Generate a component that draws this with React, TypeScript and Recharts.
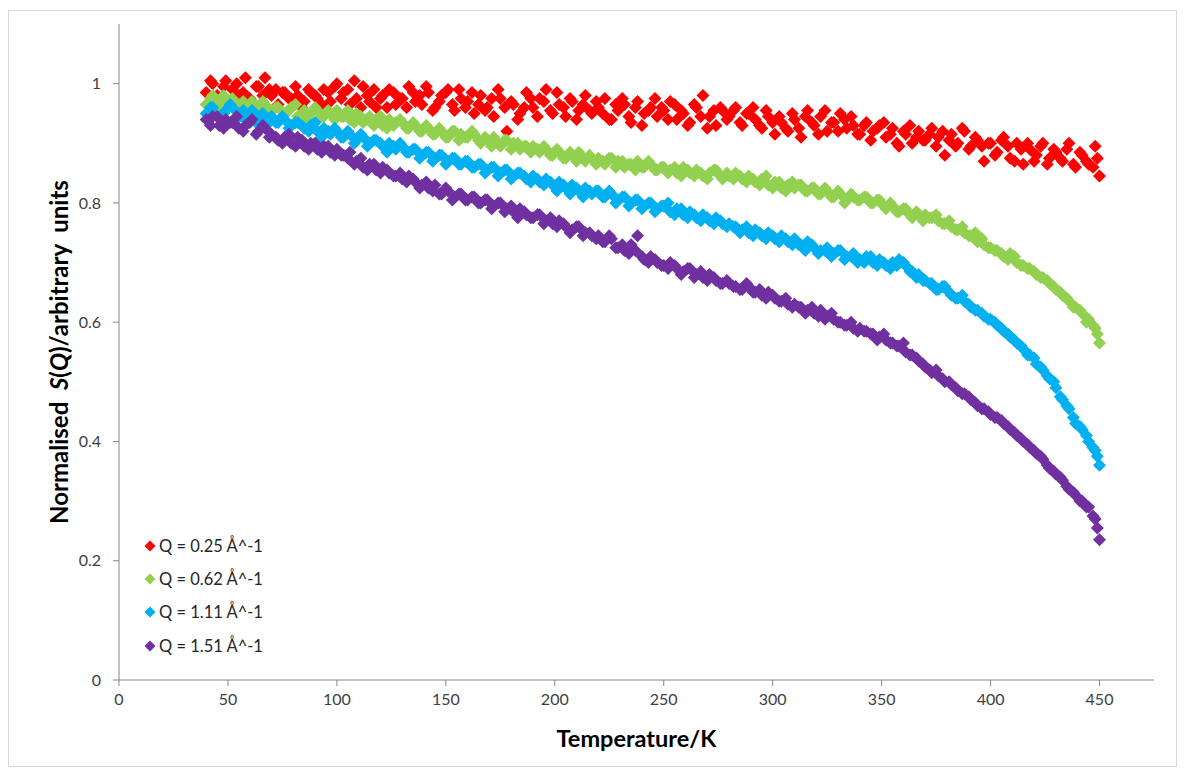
import { ScatterChart, Scatter, XAxis, YAxis, Legend } from 'recharts';

// first pass of temperature points (K)
const temperatures = [
  40, 43, 46, 49, 52, 55, 58, 61, 64, 67,
  70, 73, 76, 79, 82, 85, 88, 91, 94, 97,
  100, 103, 106, 109, 112, 115, 118, 121, 124, 127,
  130, 133, 136, 139, 142, 145, 148, 151, 154, 157,
  160, 163, 166, 169, 172, 175, 178, 181, 184, 187,
  190, 193, 196, 199, 202, 205, 208, 211, 214, 217,
  220, 223, 226, 229, 232, 235, 238, 241, 244, 247,
  250, 253, 256, 259, 262, 265, 268, 271, 274, 277,
  280, 283, 286, 289, 292, 295, 298, 301, 304, 307,
  310, 313, 316, 319, 322, 325, 328, 331, 334, 337,
  340, 343, 346, 349, 352, 355, 358, 361, 364, 367,
  370, 373, 376, 379, 382, 385, 388, 391, 394, 397,
  400, 403, 406, 409, 412, 415, 418, 421, 424, 427,
  430, 433, 436, 439, 442, 445, 448, 449, 450,
];

// second pass, in between the first
const temperaturesB = [
  42, 45, 48, 51, 54, 57, 60, 63, 66, 69,
  72, 75, 78, 81, 84, 87, 90, 93, 96, 99,
  102, 105, 108, 111, 114, 117, 120, 123, 126, 129,
  132, 135, 138, 141, 144, 147, 150, 153, 156, 159,
  162, 165, 168, 171, 174, 177, 180, 183, 186, 189,
  192, 195, 198, 201, 204, 207, 210, 213, 216, 219,
  222, 225, 228, 231, 234, 237, 240, 243, 246, 249,
  252, 255, 258, 261, 264, 267, 270, 273, 276, 279,
  282, 285, 288, 291, 294, 297, 300, 303, 306, 309,
  312, 315, 318, 321, 324, 327, 330, 333, 336, 339,
  342, 345, 348, 351, 354, 357, 360, 363, 366, 369,
  372, 375, 378, 381, 384, 387, 390, 393, 396, 399,
  402, 405, 408, 411, 414, 417, 420, 423, 426, 429,
  432, 435, 438, 441, 444, 447,
];

const sq025 = [
  0.985, 1.0, 0.975, 1.005, 0.99, 0.98, 1.01, 0.97, 0.995, 1.01,
  0.98, 0.965, 0.985, 0.975, 0.98, 0.97, 0.985, 0.975, 0.99, 0.97,
  1.0, 0.985, 0.965, 0.975, 0.995, 0.97, 0.96, 0.98, 0.99, 0.965,
  0.975, 0.995, 0.97, 0.965, 0.985, 0.96, 0.98, 0.99, 0.955, 0.975,
  0.97, 0.95, 0.98, 0.96, 0.945, 0.975, 0.92, 0.965, 0.95, 0.985,
  0.96, 0.975, 0.99, 0.95, 0.965, 0.945, 0.97, 0.955, 0.98, 0.95,
  0.96, 0.975, 0.94, 0.955, 0.965, 0.935, 0.97, 0.95, 0.96, 0.945,
  0.955, 0.97, 0.94, 0.95, 0.935, 0.96, 0.98, 0.945, 0.93, 0.955,
  0.945, 0.96, 0.93, 0.95, 0.94, 0.925, 0.945, 0.915, 0.935, 0.92,
  0.94, 0.91, 0.955, 0.93, 0.945, 0.92, 0.935, 0.95, 0.925, 0.93,
  0.915, 0.935, 0.92, 0.93, 0.91, 0.925, 0.895, 0.915, 0.9, 0.92,
  0.905, 0.925, 0.91, 0.88, 0.915, 0.9, 0.92, 0.895, 0.905, 0.87,
  0.9, 0.885, 0.91, 0.875, 0.9, 0.865, 0.89, 0.88, 0.9, 0.875,
  0.885, 0.87, 0.9, 0.86, 0.88, 0.865, 0.895, 0.875, 0.845,
];
const sq025b = [
  1.005, 0.98, 0.995, 0.965, 1.0, 0.985, 0.975, 0.995, 0.98, 0.99,
  0.99, 0.985, 0.975, 0.995, 0.96, 0.99, 0.98, 0.965, 0.985, 0.995,
  0.975, 0.99, 1.005, 0.96, 0.98, 0.99, 0.975, 0.96, 0.985, 0.975,
  0.96, 0.985, 0.98, 0.995, 0.955, 0.97, 0.985, 0.965, 0.99, 0.96,
  0.985, 0.965, 0.955, 0.975, 0.99, 0.96, 0.97, 0.94, 0.96, 0.975,
  0.945, 0.97, 0.955, 0.985, 0.96, 0.975, 0.94, 0.965, 0.955, 0.97,
  0.95, 0.94, 0.965, 0.975, 0.945, 0.96, 0.93, 0.955, 0.975, 0.96,
  0.94, 0.965, 0.955, 0.93, 0.965, 0.945, 0.925, 0.955, 0.96, 0.94,
  0.955, 0.935, 0.95, 0.96, 0.93, 0.955, 0.935, 0.945, 0.925, 0.95,
  0.925, 0.945, 0.935, 0.915, 0.955, 0.935, 0.92, 0.94, 0.945, 0.915,
  0.93, 0.905, 0.925, 0.935, 0.915, 0.9, 0.92, 0.93, 0.91, 0.905,
  0.915, 0.895, 0.92, 0.905, 0.895, 0.925, 0.89, 0.91, 0.895, 0.9,
  0.88, 0.905, 0.895, 0.87, 0.89, 0.9, 0.87, 0.895, 0.865, 0.89,
  0.875, 0.89, 0.865, 0.885, 0.87, 0.86,
];

const sq062 = [
  0.965, 0.98, 0.97, 0.96, 0.975, 0.965, 0.955, 0.97, 0.96, 0.965,
  0.955, 0.96, 0.95, 0.96, 0.945, 0.955, 0.95, 0.955, 0.945, 0.95,
  0.955, 0.945, 0.94, 0.95, 0.935, 0.945, 0.94, 0.93, 0.94, 0.935,
  0.935, 0.925, 0.93, 0.92, 0.925, 0.915, 0.92, 0.91, 0.92, 0.915,
  0.91, 0.915, 0.9, 0.905, 0.91, 0.895, 0.905, 0.9, 0.89, 0.895,
  0.895, 0.885, 0.89, 0.88, 0.885, 0.875, 0.88, 0.885, 0.87, 0.875,
  0.875, 0.865, 0.875, 0.87, 0.86, 0.865, 0.87, 0.86, 0.865, 0.855,
  0.86, 0.855, 0.85, 0.86, 0.85, 0.855, 0.845, 0.85, 0.855, 0.84,
  0.845, 0.85, 0.84, 0.845, 0.835, 0.84, 0.83, 0.835, 0.825, 0.83,
  0.825, 0.83, 0.82, 0.825, 0.815, 0.82, 0.81, 0.815, 0.805, 0.81,
  0.805, 0.81, 0.8, 0.805, 0.79, 0.795, 0.785, 0.79, 0.775, 0.78,
  0.78, 0.775, 0.77, 0.765, 0.76, 0.755, 0.75, 0.745, 0.735, 0.73,
  0.725, 0.72, 0.71, 0.715, 0.7, 0.695, 0.69, 0.68, 0.675, 0.665,
  0.655, 0.645, 0.635, 0.625, 0.615, 0.605, 0.59, 0.58, 0.565,
];
const sq062b = [
  0.975, 0.96, 0.98, 0.97, 0.955, 0.97, 0.965, 0.955, 0.97, 0.95,
  0.96, 0.945, 0.955, 0.965, 0.95, 0.94, 0.96, 0.945, 0.955, 0.94,
  0.945, 0.955, 0.935, 0.945, 0.94, 0.93, 0.945, 0.925, 0.93, 0.94,
  0.925, 0.935, 0.92, 0.93, 0.915, 0.925, 0.91, 0.92, 0.905, 0.91,
  0.92, 0.905, 0.91, 0.895, 0.9, 0.905, 0.89, 0.9, 0.895, 0.885,
  0.89, 0.895, 0.88, 0.89, 0.875, 0.885, 0.87, 0.875, 0.88, 0.865,
  0.87, 0.875, 0.86, 0.87, 0.865, 0.855, 0.86, 0.87, 0.855, 0.86,
  0.85, 0.86, 0.845, 0.855, 0.845, 0.85, 0.84, 0.855, 0.845, 0.85,
  0.84, 0.845, 0.835, 0.84, 0.83, 0.845, 0.825, 0.835, 0.82, 0.835,
  0.83, 0.82, 0.825, 0.815, 0.825, 0.81, 0.82, 0.8, 0.815, 0.805,
  0.81, 0.8, 0.805, 0.795, 0.8, 0.785, 0.79, 0.78, 0.785, 0.77,
  0.775, 0.78, 0.765, 0.77, 0.755, 0.76, 0.745, 0.75, 0.74, 0.725,
  0.72, 0.715, 0.705, 0.71, 0.695, 0.69, 0.685, 0.675, 0.67, 0.66,
  0.65, 0.64, 0.625, 0.62, 0.6, 0.595,
];

const sq111 = [
  0.95, 0.96, 0.945, 0.955, 0.96, 0.95, 0.94, 0.955, 0.945, 0.94,
  0.945, 0.935, 0.94, 0.93, 0.935, 0.925, 0.93, 0.92, 0.925, 0.915,
  0.92, 0.91, 0.915, 0.905, 0.91, 0.9, 0.905, 0.895, 0.9, 0.89,
  0.895, 0.885, 0.89, 0.88, 0.885, 0.875, 0.88, 0.87, 0.875, 0.865,
  0.87, 0.86, 0.865, 0.855, 0.86, 0.85, 0.855, 0.845, 0.85, 0.84,
  0.845, 0.835, 0.84, 0.83, 0.835, 0.825, 0.83, 0.82, 0.825, 0.815,
  0.82, 0.81, 0.815, 0.805, 0.81, 0.8, 0.805, 0.795, 0.8, 0.79,
  0.795, 0.785, 0.79, 0.78, 0.785, 0.775, 0.78, 0.77, 0.775, 0.765,
  0.765, 0.76, 0.755, 0.75, 0.755, 0.745, 0.75, 0.74, 0.745, 0.735,
  0.74, 0.73, 0.735, 0.725, 0.72, 0.725, 0.715, 0.72, 0.71, 0.715,
  0.705, 0.71, 0.7, 0.705, 0.695, 0.7, 0.705, 0.695, 0.685, 0.68,
  0.67, 0.665, 0.655, 0.66, 0.645, 0.64, 0.635, 0.625, 0.62, 0.61,
  0.605, 0.595, 0.585, 0.575, 0.565, 0.555, 0.545, 0.53, 0.52, 0.505,
  0.49, 0.47, 0.455, 0.43, 0.42, 0.4, 0.385, 0.375, 0.36,
];
const sq111b = [
  0.96, 0.945, 0.95, 0.965, 0.94, 0.955, 0.945, 0.935, 0.95, 0.935,
  0.935, 0.945, 0.925, 0.935, 0.93, 0.92, 0.935, 0.91, 0.92, 0.925,
  0.91, 0.92, 0.9, 0.915, 0.895, 0.905, 0.9, 0.885, 0.895, 0.9,
  0.885, 0.89, 0.875, 0.885, 0.87, 0.88, 0.865, 0.875, 0.865, 0.87,
  0.86, 0.865, 0.85, 0.86, 0.845, 0.855, 0.84, 0.85, 0.845, 0.835,
  0.84, 0.83, 0.835, 0.82, 0.83, 0.815, 0.825, 0.81, 0.82, 0.82,
  0.81, 0.82, 0.8, 0.81, 0.795, 0.805, 0.79, 0.8, 0.785, 0.795,
  0.8, 0.78, 0.79, 0.775, 0.78, 0.77, 0.775, 0.765, 0.77, 0.76,
  0.76, 0.75, 0.76, 0.745, 0.75, 0.74, 0.745, 0.735, 0.74, 0.73,
  0.73, 0.72, 0.73, 0.715, 0.72, 0.71, 0.72, 0.705, 0.71, 0.7,
  0.7, 0.71, 0.695, 0.7, 0.69, 0.695, 0.7, 0.685, 0.675, 0.67,
  0.665, 0.655, 0.66, 0.65, 0.64, 0.645, 0.63, 0.62, 0.615, 0.605,
  0.6, 0.59, 0.58, 0.57, 0.56, 0.545, 0.54, 0.525, 0.51, 0.5,
  0.475, 0.46, 0.44, 0.425, 0.41, 0.39,
];

const sq151 = [
  0.94, 0.945, 0.93, 0.94, 0.935, 0.925, 0.93, 0.94, 0.92, 0.925,
  0.915, 0.905, 0.91, 0.9, 0.91, 0.895, 0.9, 0.89, 0.895, 0.885,
  0.89, 0.88, 0.885, 0.87, 0.86, 0.865, 0.855, 0.86, 0.85, 0.845,
  0.84, 0.845, 0.835, 0.83, 0.825, 0.83, 0.815, 0.82, 0.81, 0.815,
  0.805, 0.81, 0.8, 0.805, 0.795, 0.8, 0.79, 0.785, 0.79, 0.78,
  0.775, 0.78, 0.77, 0.765, 0.77, 0.76, 0.755, 0.76, 0.75, 0.745,
  0.745, 0.735, 0.74, 0.725, 0.72, 0.73, 0.745, 0.705, 0.71, 0.7,
  0.695, 0.7, 0.69, 0.685, 0.69, 0.68, 0.675, 0.68, 0.67, 0.665,
  0.665, 0.66, 0.655, 0.66, 0.65, 0.645, 0.65, 0.64, 0.635, 0.63,
  0.63, 0.625, 0.62, 0.615, 0.62, 0.61, 0.605, 0.6, 0.595, 0.59,
  0.59, 0.585, 0.58, 0.575, 0.57, 0.565, 0.56, 0.55, 0.545, 0.535,
  0.525, 0.515, 0.51, 0.5, 0.495, 0.485, 0.48, 0.47, 0.46, 0.455,
  0.445, 0.44, 0.43, 0.42, 0.41, 0.4, 0.39, 0.38, 0.37, 0.355,
  0.345, 0.335, 0.32, 0.31, 0.3, 0.29, 0.27, 0.255, 0.235,
];
const sq151b = [
  0.93, 0.945, 0.925, 0.935, 0.945, 0.92, 0.935, 0.915, 0.93, 0.91,
  0.91, 0.9, 0.915, 0.895, 0.905, 0.89, 0.9, 0.885, 0.895, 0.88,
  0.88, 0.875, 0.865, 0.875, 0.855, 0.865, 0.85, 0.855, 0.845, 0.85,
  0.835, 0.84, 0.825, 0.835, 0.82, 0.815, 0.825, 0.805, 0.815, 0.805,
  0.81, 0.8, 0.805, 0.79, 0.8, 0.785, 0.795, 0.775, 0.785, 0.775,
  0.78, 0.765, 0.775, 0.76, 0.765, 0.75, 0.76, 0.745, 0.75, 0.74,
  0.735, 0.745, 0.725, 0.73, 0.715, 0.72, 0.71, 0.7, 0.705, 0.695,
  0.69, 0.695, 0.68, 0.69, 0.675, 0.685, 0.67, 0.675, 0.665, 0.67,
  0.66, 0.655, 0.665, 0.65, 0.655, 0.64, 0.645, 0.635, 0.64, 0.625,
  0.625, 0.615, 0.625, 0.61, 0.605, 0.615, 0.6, 0.595, 0.6, 0.585,
  0.585, 0.58, 0.57, 0.58, 0.565, 0.56, 0.565, 0.545, 0.54, 0.53,
  0.52, 0.52, 0.505, 0.5, 0.49, 0.48, 0.475, 0.465, 0.455, 0.45,
  0.44, 0.435, 0.425, 0.415, 0.405, 0.395, 0.385, 0.375, 0.36, 0.35,
  0.34, 0.325, 0.315, 0.3, 0.29, 0.275,
];

const xTicks = [0, 50, 100, 150, 200, 250, 300, 350, 400, 450];
const yTicks = [0, 0.2, 0.4, 0.6, 0.8, 1];

const seriesList = [
  { name: 'Q = 0.25 Å^-1', values: sq025, valuesB: sq025b, color: '#ff0000' },
  { name: 'Q = 0.62 Å^-1', values: sq062, valuesB: sq062b, color: '#92d050' },
  { name: 'Q = 1.11 Å^-1', values: sq111, valuesB: sq111b, color: '#00b0f0' },
  { name: 'Q = 1.51 Å^-1', values: sq151, valuesB: sq151b, color: '#7030a0' },
];

const FONT = 'Lato, "Open Sans", sans-serif';

const Diamond = (props: any) => {
  const { cx, cy, fill } = props;
  if (cx == null || cy == null) return null;
  const r = 6.5;
  return (
    <polygon
      points={`${cx},${cy - r} ${cx + r},${cy} ${cx},${cy + r} ${cx - r},${cy}`}
      fill={fill}
    />
  );
};

const YTitle = (props: any) => {
  const vb = props.viewBox || { x: 50, y: 13, width: 60, height: 656 };
  const cx = 49;
  const cy = vb.y + vb.height / 2;
  return (
    <text
      x={cx}
      y={cy}
      transform={`rotate(-90, ${cx}, ${cy})`}
      textAnchor="middle"
      dominantBaseline="central"
      fontFamily={FONT}
      fontSize={24}
      fontWeight="bold"
      fill="#000"
      style={{ whiteSpace: 'pre' }}
    >
      Normalised  <tspan fontStyle="italic">S</tspan>(<tspan fontStyle="italic">Q</tspan>)/arbitrary  units
    </text>
  );
};

const XTitle = (props: any) => {
  const vb = props.viewBox || { x: 110, y: 669, width: 1035, height: 40 };
  return (
    <text
      x={vb.x + vb.width / 2}
      y={vb.y + 58}
      textAnchor="middle"
      dominantBaseline="central"
      fontFamily={FONT}
      fontSize={23.5}
      fontWeight="bold"
      fill="#000"
    >
      Temperature/K
    </text>
  );
};

const LegendBox = () => (
  <div style={{ fontFamily: FONT, fontSize: 16.5, color: '#262626' }}>
    {seriesList.map((s) => (
      <div key={s.name} style={{ display: 'flex', alignItems: 'center', height: 33.3 }}>
        <svg width={12} height={12} style={{ marginRight: 3 }}>
          <polygon points="6,0.5 11.5,6 6,11.5 0.5,6" fill={s.color} />
        </svg>
        <span>{s.name}</span>
      </div>
    ))}
  </div>
);

export default function App() {
  return (
    <div
      style={{
        width: 1167,
        height: 755,
        marginTop: 2,
        border: '1px solid #d9d9d9',
        background: '#fff',
      }}
    >
      <ScatterChart width={1167} height={755} margin={{ top: 13, right: 22, bottom: 46, left: 50 }}>
        <XAxis
          type="number"
          dataKey="t"
          domain={[0, 475]}
          ticks={xTicks}
          interval={0}
          height={40}
          tickSize={6}
          tickMargin={8}
          stroke="#868686"
          tick={{ fill: '#404040', fontSize: 16, fontFamily: FONT }}
          label={<XTitle />}
        />
        <YAxis
          type="number"
          dataKey="v"
          domain={[0, 1.1]}
          ticks={yTicks}
          interval={0}
          width={60}
          tickSize={6}
          tickMargin={12}
          stroke="#868686"
          tick={{ fill: '#404040', fontSize: 16, fontFamily: FONT }}
          label={<YTitle />}
        />
        <Legend
          layout="vertical"
          align="center"
          verticalAlign="middle"
          content={<LegendBox />}
          wrapperStyle={{ left: 135, top: 518, width: 220, height: 134 }}
        />
        {seriesList.map((s) => (
          <Scatter
            key={s.name}
            name={s.name}
            data={[
              ...temperatures.map((t, i) => ({ t, v: s.values[i] })),
              ...temperaturesB.map((t, i) => ({ t, v: s.valuesB[i] })),
            ]}
            fill={s.color}
            shape={<Diamond />}
            isAnimationActive={false}
          />
        ))}
      </ScatterChart>
    </div>
  );
}
